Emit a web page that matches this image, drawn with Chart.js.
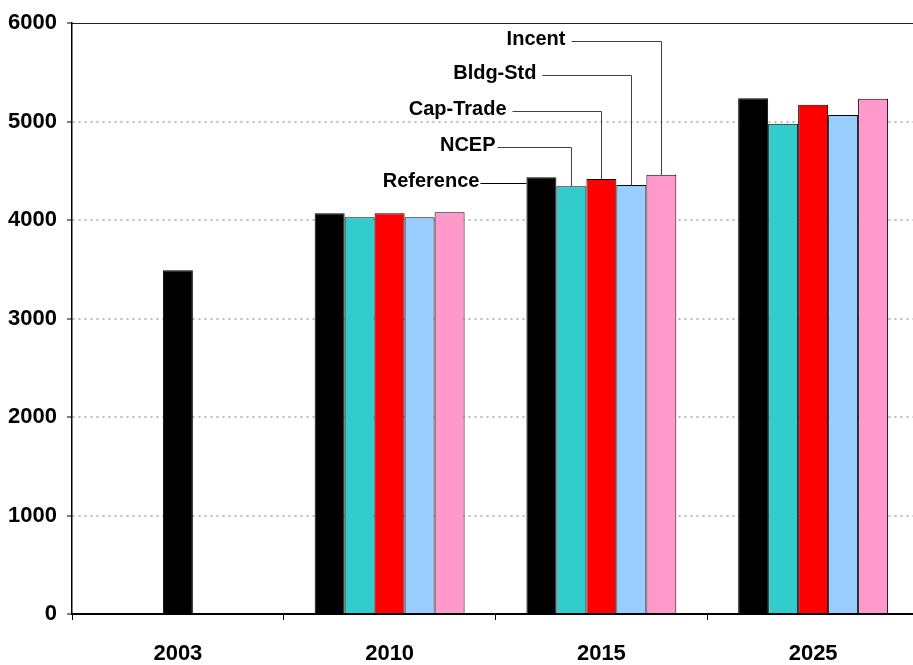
<!DOCTYPE html>
<html>
<head>
<meta charset="utf-8">
<script src="https://cdn.jsdelivr.net/npm/chart.js@4"></script>
<style>
    html, body { margin: 0; padding: 0; background: #fff; overflow: hidden; }
    #wrap { width: 925px; height: 665px; }
</style>
</head>
<body>
<div id="wrap"><canvas id="myChart" width="925" height="665"></canvas></div>
<script>
const years = ['2003', '2010', '2015', '2025'];
const historical = [3490, null, null, null];
const reference = [null, 4070, 4435, 5238];
const ncep = [null, 4030, 4343, 4978];
const capTrade = [null, 4070, 4418, 5172];
const bldgStd = [null, 4030, 4357, 5068];
const incent = [null, 4080, 4460, 5232];

const calloutNames = ['Reference', 'NCEP', 'Cap-Trade', 'Bldg-Std', 'Incent'];
const calloutLevels = [4381, 4743, 5108, 5470, 5817];
const calloutYear = 2;

const labelFont = "'Liberation Sans', Arial, sans-serif";

// leader lines to the 2015 bars
const calloutPlugin = {
    id: 'callouts',
    afterDatasetsDraw(chart) {
        const ctx = chart.ctx;
        const yScale = chart.scales.y;
        const lineLen = [46, 74, 89, 89, 90];
        const gap = [1, 2, 6, 6, 6];
        ctx.save();
        ctx.font = 'bold 20px ' + labelFont;
        ctx.textAlign = 'right';
        ctx.textBaseline = 'middle';
        for (let i = 0; i < calloutNames.length; i++) {
            const bar = chart.getDatasetMeta(i + 1).data[calloutYear];
            const ly = Math.round(yScale.getPixelForValue(calloutLevels[i])) + 0.5;
            const endX = i === 0 ? bar.x - bar.width / 2 : Math.round(bar.x) + 0.5;
            const startX = endX - lineLen[i];
            ctx.strokeStyle = i === 0 ? '#000' : '#404040';
            ctx.lineWidth = 1;
            ctx.beginPath();
            ctx.moveTo(startX, ly);
            ctx.lineTo(endX, ly);
            if (i > 0) ctx.lineTo(endX, bar.y);
            ctx.stroke();
            ctx.fillStyle = '#000';
            ctx.fillText(calloutNames[i], startX - gap[i], ly - 2);
        }
        ctx.restore();
    }
};

function barSet(label, data, color) {
    return {
        label: label,
        data: data,
        backgroundColor: color,
        borderColor: '#000',
        borderWidth: 1,
        borderSkipped: 'bottom',
        categoryPercentage: 0.708,
        barPercentage: 1.0
    };
}

const chartData = {
    labels: years,
    datasets: [
        {
            label: 'Historical',
            data: historical,
            backgroundColor: '#000',
            borderColor: '#000',
            borderWidth: 1,
            grouped: false,
            categoryPercentage: 0.708,
            barPercentage: 0.2
        },
        barSet('Reference', reference, '#000000'),
        barSet('NCEP', ncep, '#33CCCC'),
        barSet('Cap-Trade', capTrade, '#FF0000'),
        barSet('Bldg-Std', bldgStd, '#99CCFF'),
        barSet('Incent', incent, '#FF99CC')
    ]
};

new Chart(document.getElementById('myChart').getContext('2d'), {
    type: 'bar',
    data: chartData,
    plugins: [calloutPlugin],
    options: {
        responsive: false,
        animation: false,
        layout: { padding: { top: 22, right: 6, left: 0, bottom: 0 } },
        plugins: {
            legend: { display: false },
            tooltip: { enabled: false }
        },
        scales: {
            x: {
                position: 'bottom',
                offset: true,
                afterFit: s => { s.height = 51; },
                grid: {
                    offset: true,
                    drawOnChartArea: false,
                    drawTicks: true,
                    tickLength: 6,
                    tickColor: '#000',
                    color: '#000'
                },
                border: { display: true, color: '#000', width: 2 },
                ticks: {
                    color: '#000',
                    padding: 21,
                    font: { family: labelFont, size: 22, weight: 'bold' }
                }
            },
            x2: {
                position: 'top',
                type: 'category',
                labels: years,
                offset: true,
                afterFit: s => { s.height = 0; },
                grid: { display: false, drawTicks: false },
                ticks: { display: false },
                border: { display: true, color: '#222', width: 1 }
            },
            y: {
                min: 0,
                max: 6000,
                afterFit: s => { s.width = 72; },
                ticks: {
                    stepSize: 1000,
                    color: '#000',
                    padding: 10,
                    callback: v => String(v),
                    font: { family: labelFont, size: 22, weight: 'bold' }
                },
                grid: {
                    color: c => (c.tick.value === 0 || c.tick.value === 6000) ? 'rgba(0,0,0,0)' : '#BBBBBB',
                    lineWidth: 2,
                    tickLength: 5,
                    tickColor: '#000',
                    tickWidth: 1
                },
                border: { display: true, color: '#000', width: 1.5, dash: [2, 4] }
            }
        }
    }
});
</script>
</body>
</html>
